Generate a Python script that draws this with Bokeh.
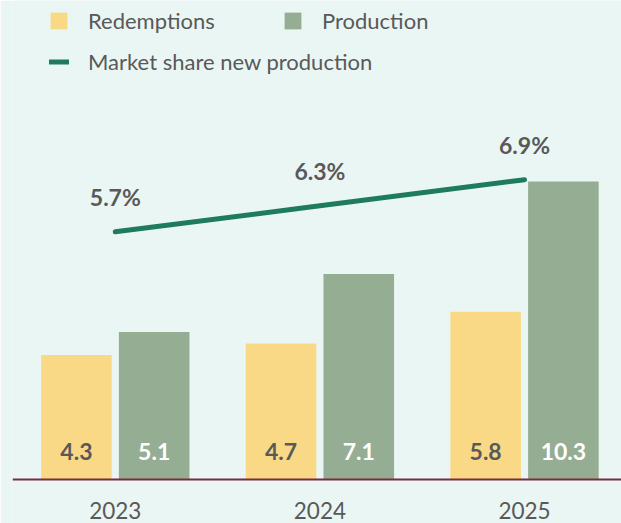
from bokeh.plotting import figure
from bokeh.models import ColumnDataSource, Range1d, LabelSet, Legend, LegendItem, Span
from bokeh.core.properties import value
from bokeh.embed import file_html
from bokeh.resources import INLINE

# ---- data ----
years = ["2023", "2024", "2025"]
redemptions = [4.3, 4.7, 5.8]
production = [5.1, 7.1, 10.3]
market_share = [5.7, 6.3, 6.9]

# ---- styles ----
BG = "#EAF6F3"
YELLOW = "#FAD986"
GREEN = "#95AE93"
LINE = "#1E7B5F"
TEXT = "#595959"
AXIS = "#7B2B3E"
FONT = "Lato"

xs = [i + 0.5 for i in range(len(years))]
OFF = 0.19
BAR_W = 0.345

src = ColumnDataSource(dict(
    x=xs,
    x_r=[x - OFF for x in xs],
    x_p=[x + OFF for x in xs],
    red=redemptions,
    prod=production,
    share=market_share,
    year=years,
    red_lbl=[f"{v:.1f}" for v in redemptions],
    prod_lbl=[f"{v:.1f}" for v in production],
    share_lbl=[f"{v:.1f}%" for v in market_share],
    zero=[0] * len(years),
))

p = figure(width=621, height=523,
           x_range=Range1d(-0.0024, 2.974), y_range=Range1d(-1.521, 16.557),
           output_backend="svg", toolbar_location=None,
           x_axis_location=None, y_axis_location=None,
           min_border_left=12, min_border_right=0, min_border_top=0, min_border_bottom=0,
           background_fill_color=BG, border_fill_color=BG, outline_line_color=None)
p.extra_y_ranges = {"pct": Range1d(-1.0127, 11.024)}
p.xgrid.visible = False
p.ygrid.visible = False

# baseline (category axis line)
p.add_layout(Span(location=0, dimension="width", line_color=AXIS, line_width=2))

r1 = p.vbar(x="x_r", top="red", bottom=0, width=BAR_W, source=src,
            fill_color=YELLOW, line_color=None)
r2 = p.vbar(x="x_p", top="prod", bottom=0, width=BAR_W, source=src,
            fill_color=GREEN, line_color=None)
r3 = p.line(x="x", y="share", source=src, y_range_name="pct",
            line_color=LINE, line_width=5, line_cap="round")

common = dict(text_align="center", text_baseline="middle",
              text_font=value(FONT), text_font_style="bold", text_font_size="23px")
p.add_layout(LabelSet(x="x_r", y="zero", text="red_lbl", y_offset=28, source=src,
                      text_color=TEXT, **common))
p.add_layout(LabelSet(x="x_p", y="zero", text="prod_lbl", y_offset=28, source=src,
                      text_color="white", **common))
p.add_layout(LabelSet(x="x", y="share", text="share_lbl", y_offset=35, source=src,
                      y_range_name="pct", text_color=TEXT, **common))
# category labels
p.add_layout(LabelSet(x="x", y="zero", text="year", y_offset=-31, source=src,
                      text_align="center", text_baseline="middle",
                      text_font=value(FONT), text_font_size="22.5px", text_color=TEXT))

leg_style = dict(background_fill_alpha=0, border_line_color=None, padding=0, margin=0,
                 spacing=0, label_text_font=FONT, label_text_font_size="22px",
                 label_text_color=TEXT)
leg1 = Legend(items=[LegendItem(label="Redemptions", renderers=[r1]),
                     LegendItem(label="Production", renderers=[r2])],
              orientation="horizontal", location=(36, 489),
              glyph_width=21, glyph_height=21, label_standoff=19, label_width=194,
              **leg_style)
leg2 = Legend(items=[LegendItem(label="Market share new production", renderers=[r3])],
              orientation="horizontal", location=(37, 448),
              glyph_width=20, glyph_height=21, label_standoff=19,
              **leg_style)
p.add_layout(leg1)
p.add_layout(leg2)

open("out.html", "w").write(file_html(p, INLINE))
